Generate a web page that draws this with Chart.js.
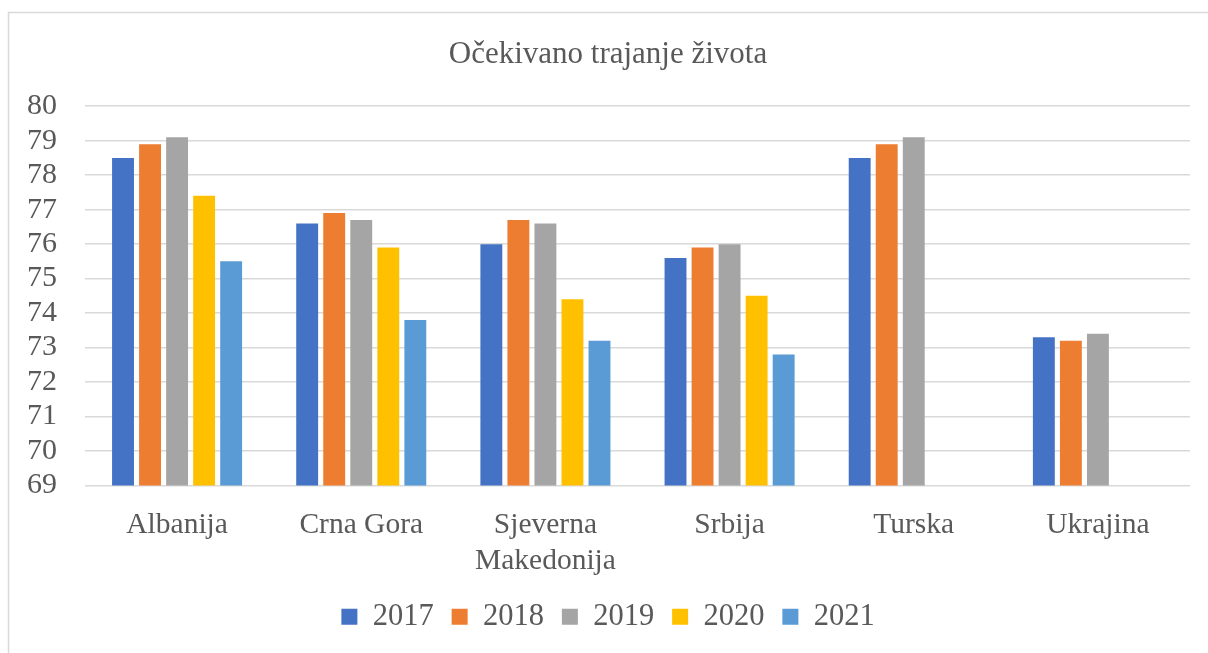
<!DOCTYPE html>
<html>
<head>
<meta charset="utf-8">
<script src="https://cdn.jsdelivr.net/npm/chart.js@4/dist/chart.umd.min.js"></script>
<style>
  html, body { margin: 0; padding: 0; background: #fff; }
  #wrap { position: relative; width: 1208px; height: 653px; }
</style>
</head>
<body>
<div id="wrap"><canvas id="chart" width="1208" height="653"></canvas></div>
<script>
// Life expectancy by country and year
const countries = ['Albanija', 'Crna Gora', ['Sjeverna', 'Makedonija'], 'Srbija', 'Turska', 'Ukrajina'];
const years = ['2017', '2018', '2019', '2020', '2021'];
const colors = ['#4472C4', '#ED7D31', '#A5A5A5', '#FFC000', '#5B9BD5'];

const v2017 = [78.5, 76.6, 76.0, 75.6, 78.5, 73.3];
const v2018 = [78.9, 76.9, 76.7, 75.9, 78.9, 73.2];
const v2019 = [79.1, 76.7, 76.6, 76.0, 79.1, 73.4];
const v2020 = [77.4, 75.9, 74.4, 74.5, null, null];
const v2021 = [75.5, 73.8, 73.2, 72.8, null, null];

const Y_MIN = 69;
const Y_MAX = 80;
const TEXT = '#595959';
const FONT = '"Liberation Serif", "Times New Roman", serif';

const series = [v2017, v2018, v2019, v2020, v2021];

// outer frame like the Excel chart area
const framePlugin = {
  id: 'frame',
  beforeDraw(chart) {
    const c = chart.ctx;
    c.save();
    c.fillStyle = '#fff';
    c.fillRect(0, 0, chart.width, chart.height);
    c.strokeStyle = '#d9d9d9';
    c.lineWidth = 1.5;
    c.strokeRect(8.5, 12.5, chart.width + 10, chart.height + 10);
    c.restore();
  }
};

new Chart(document.getElementById('chart'), {
  type: 'bar',
  data: {
    labels: countries,
    datasets: series.map((d, i) => ({
      label: years[i],
      data: d,
      backgroundColor: colors[i],
      borderWidth: 0,
      barPercentage: 0.81,
      categoryPercentage: 0.734
    }))
  },
  options: {
    responsive: false,
    animation: false,
    // left padding wider so title and legend sit centred on the frame
    layout: { padding: { left: 26, right: 18, top: 0, bottom: 11 } },
    plugins: {
      tooltip: { enabled: false },
      title: {
        display: true,
        text: 'Očekivano trajanje života',
        color: TEXT,
        font: { family: FONT, size: 31, weight: 'normal' },
        padding: { top: 36, bottom: 33 }
      },
      legend: {
        position: 'bottom',
        labels: {
          color: TEXT,
          font: { family: FONT, size: 30.5 },
          boxWidth: 16,
          boxHeight: 16,
          padding: 18
        }
      }
    },
    scales: {
      x: {
        afterFit(scale) { scale.height = 98; },
        grid: { display: false },
        border: { display: false },
        ticks: {
          color: TEXT,
          font: { family: FONT, size: 29.5, lineHeight: 1.22 },
          padding: 14,
          maxRotation: 0,
          autoSkip: false
        }
      },
      y: {
        min: Y_MIN,
        max: Y_MAX,
        afterFit(scale) { scale.width = 59; },
        grid: { color: '#d9d9d9', lineWidth: 1.5, drawTicks: false },
        border: { display: false },
        ticks: {
          stepSize: 1,
          autoSkip: false,
          color: TEXT,
          font: { family: FONT, size: 30 },
          padding: 28
        }
      }
    }
  },
  plugins: [framePlugin]
});
</script>
</body>
</html>
